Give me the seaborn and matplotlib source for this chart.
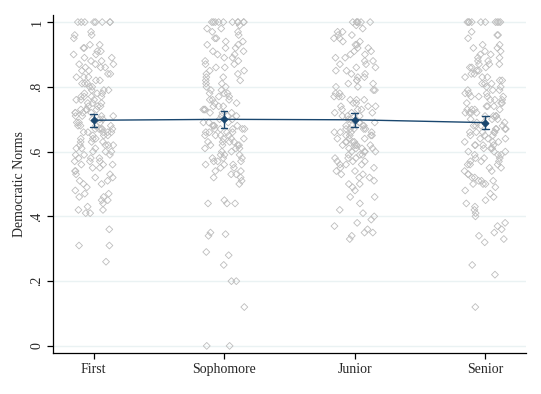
import numpy as np
import pandas as pd
import matplotlib
matplotlib.use("Agg")
import matplotlib.pyplot as plt
import seaborn as sns

# -- values (Democratic Norms by class year) --
years = ["First", "Sophomore", "Junior", "Senior"]

first = [1, 1, 1, 1, 1, 1, 1, 1, 0.96, 0.97, 0.95, 0.96,
         0.93, 0.92, 0.91, 0.91, 0.90, 0.90, 0.92, 0.93,
         0.89, 0.88, 0.88, 0.87, 0.87, 0.86, 0.86, 0.85, 0.85, 0.89, 0.87, 0.86,
         0.84, 0.84, 0.83, 0.83, 0.82, 0.82, 0.81, 0.81, 0.80, 0.80, 0.83, 0.81,
         0.79, 0.79, 0.78, 0.78, 0.77, 0.77, 0.77, 0.76, 0.76, 0.76, 0.75, 0.75,
         0.78, 0.79, 0.75, 0.77,
         0.74, 0.74, 0.73, 0.73, 0.73, 0.72, 0.72, 0.72, 0.71, 0.71, 0.71, 0.70,
         0.70, 0.70, 0.74, 0.72, 0.71, 0.73,
         0.69, 0.69, 0.68, 0.68, 0.68, 0.67, 0.67, 0.67, 0.67, 0.66, 0.66, 0.66,
         0.66, 0.65, 0.65, 0.65, 0.69, 0.68, 0.67, 0.66,
         0.64, 0.64, 0.63, 0.63, 0.62, 0.62, 0.62, 0.61, 0.61, 0.60, 0.60, 0.60,
         0.64, 0.63, 0.61, 0.62,
         0.59, 0.59, 0.58, 0.58, 0.57, 0.57, 0.56, 0.56, 0.55, 0.55, 0.59, 0.57,
         0.56, 0.58,
         0.54, 0.54, 0.53, 0.52, 0.52, 0.51, 0.51, 0.50, 0.50, 0.53,
         0.49, 0.48, 0.47, 0.47, 0.46, 0.46, 0.45, 0.45,
         0.44, 0.43, 0.42, 0.42, 0.41, 0.41,
         0.36, 0.31, 0.31, 0.26]

sophomore = [1, 1, 1, 1, 1, 1, 1, 1, 1, 1,
             0.99, 0.98, 0.97, 0.97, 0.96, 0.95, 0.95, 0.98,
             0.94, 0.93, 0.93, 0.92, 0.92, 0.91, 0.91, 0.90, 0.90, 0.94,
             0.89, 0.88, 0.88, 0.87, 0.87, 0.86, 0.86, 0.85, 0.85, 0.89,
             0.84, 0.83, 0.83, 0.82, 0.82, 0.81, 0.81, 0.80, 0.80, 0.84,
             0.79, 0.79, 0.78, 0.78, 0.77, 0.77, 0.76, 0.76, 0.75, 0.75, 0.78, 0.76,
             0.74, 0.74, 0.73, 0.73, 0.72, 0.72, 0.72, 0.71, 0.71, 0.70, 0.70,
             0.73, 0.71, 0.74,
             0.69, 0.69, 0.68, 0.68, 0.68, 0.67, 0.67, 0.67, 0.66, 0.66, 0.66,
             0.65, 0.65, 0.65, 0.69, 0.68, 0.67, 0.66, 0.65, 0.67,
             0.64, 0.64, 0.63, 0.63, 0.63, 0.62, 0.62, 0.62, 0.61, 0.61, 0.60,
             0.60, 0.64, 0.62, 0.61, 0.63,
             0.59, 0.59, 0.58, 0.58, 0.57, 0.57, 0.57, 0.56, 0.56, 0.55, 0.55,
             0.58, 0.56, 0.59,
             0.54, 0.54, 0.53, 0.53, 0.52, 0.52,
             0.51, 0.50, 0.45, 0.44, 0.44, 0.44, 0.35, 0.345, 0.34, 0.29, 0.28,
             0.25, 0.20, 0.20, 0.12, 0.0, 0.0]

junior = [1, 1, 1, 1, 1, 1,
          0.99, 0.98, 0.97, 0.96, 0.96, 0.95, 0.95, 0.97,
          0.94, 0.93, 0.92, 0.92, 0.91, 0.91, 0.90, 0.90, 0.93, 0.94,
          0.89, 0.88, 0.87, 0.87, 0.86, 0.86, 0.85, 0.85, 0.88, 0.89,
          0.84, 0.83, 0.83, 0.82, 0.81, 0.81, 0.80, 0.80, 0.82, 0.84,
          0.79, 0.79, 0.78, 0.78, 0.77, 0.77, 0.76, 0.76, 0.75, 0.75, 0.77, 0.76,
          0.74, 0.74, 0.73, 0.73, 0.72, 0.72, 0.71, 0.71, 0.71, 0.70, 0.70,
          0.72, 0.73, 0.74,
          0.69, 0.69, 0.68, 0.68, 0.67, 0.67, 0.67, 0.66, 0.66, 0.66, 0.65,
          0.65, 0.65, 0.69, 0.68, 0.67, 0.66, 0.65, 0.68, 0.67,
          0.64, 0.64, 0.63, 0.63, 0.62, 0.62, 0.62, 0.61, 0.61, 0.60, 0.60,
          0.60, 0.63, 0.62, 0.61, 0.64, 0.60, 0.61, 0.62, 0.63,
          0.59, 0.59, 0.58, 0.58, 0.57, 0.57, 0.56, 0.56, 0.56, 0.55, 0.55,
          0.58, 0.57, 0.59,
          0.54, 0.54, 0.53, 0.53, 0.52, 0.52,
          0.51, 0.50, 0.50, 0.49, 0.48, 0.46, 0.46, 0.44, 0.42, 0.41, 0.40,
          0.39, 0.38, 0.37, 0.36, 0.35, 0.35, 0.34, 0.33]

senior = [1, 1, 1, 1, 1, 1, 1, 1, 1, 1,
          0.97, 0.96, 0.96, 0.95,
          0.93, 0.92, 0.91, 0.91, 0.90, 0.90, 0.92, 0.93,
          0.89, 0.88, 0.88, 0.87, 0.87, 0.86, 0.86, 0.85, 0.85, 0.89, 0.87, 0.86,
          0.84, 0.84, 0.83, 0.83, 0.82, 0.82, 0.81, 0.81, 0.80, 0.80, 0.83, 0.81,
          0.79, 0.79, 0.78, 0.78, 0.77, 0.77, 0.77, 0.76, 0.76, 0.76, 0.75, 0.75,
          0.78, 0.79, 0.75, 0.77,
          0.74, 0.74, 0.73, 0.73, 0.73, 0.72, 0.72, 0.72, 0.71, 0.71, 0.71, 0.70,
          0.70, 0.70, 0.74, 0.72, 0.71, 0.73,
          0.69, 0.69, 0.68, 0.68, 0.68, 0.67, 0.67, 0.67, 0.67, 0.66, 0.66, 0.66,
          0.66, 0.65, 0.65, 0.65, 0.69, 0.68, 0.67, 0.66,
          0.64, 0.64, 0.63, 0.63, 0.62, 0.62, 0.62, 0.61, 0.61, 0.60, 0.60, 0.60,
          0.64, 0.63, 0.61, 0.62,
          0.59, 0.59, 0.58, 0.58, 0.57, 0.57, 0.56, 0.56, 0.55, 0.55, 0.59, 0.57,
          0.56, 0.58,
          0.54, 0.54, 0.53, 0.52, 0.52, 0.51, 0.51, 0.50, 0.50, 0.53,
          0.51, 0.50, 0.49, 0.48, 0.47, 0.46, 0.45, 0.44, 0.43, 0.42, 0.41, 0.40,
          0.38, 0.37, 0.36, 0.35, 0.34, 0.33, 0.32, 0.25, 0.22, 0.12]

yticks = [0, 0.2, 0.4, 0.6, 0.8, 1]
ytick_labels = ["0", ".2", ".4", ".6", ".8", "1"]

df = pd.DataFrame({
    "year": ["First"] * len(first) + ["Sophomore"] * len(sophomore)
            + ["Junior"] * len(junior) + ["Senior"] * len(senior),
    "norms": first + sophomore + junior + senior,
})

sns.set_style("white")
plt.rcParams["font.family"] = ["Liberation Serif", "DejaVu Serif"]

fig = plt.figure(figsize=(5.41, 3.94), dpi=100)
ax = fig.add_axes([0.098, 0.104, 0.874, 0.858])

np.random.seed(3)
sns.stripplot(data=df, x="year", y="norms", order=years, jitter=0.16,
              marker="D", size=3.5, color="#bdbdbd", linewidth=0.6,
              edgecolor="#bdbdbd", ax=ax, zorder=2)
for coll in ax.collections:
    coll.set_facecolor("none")
    coll.set_edgecolor("#bdbdbd")

# mean with interval, as in the Stata original
sns.pointplot(data=df, x="year", y="norms", order=years,
              errorbar=("se", 1.5), color="#1a476f", markers="D",
              markersize=3.5, linewidth=1.0, capsize=0.05,
              err_kws={"linewidth": 1.0}, ax=ax)

ax.set_xlim(-0.31, 3.31)
ax.set_ylim(-0.022, 1.022)
ax.set_yticks(yticks)
ax.set_yticklabels(ytick_labels)
ax.yaxis.grid(True, color="#eaf2f3", linewidth=1.0)
ax.set_axisbelow(True)

for side in ["top", "right"]:
    ax.spines[side].set_visible(False)
for side in ["left", "bottom"]:
    ax.spines[side].set_color("black")
    ax.spines[side].set_linewidth(0.9)

ax.tick_params(axis="both", direction="out", length=4, width=0.9,
               color="black", labelsize=10, left=True, bottom=True, pad=3)
ax.tick_params(axis="y", labelrotation=90, pad=3)
for lab in ax.get_yticklabels():
    lab.set_verticalalignment("center")

ax.set_xlabel("")
ax.set_ylabel("Democratic Norms", fontsize=10, labelpad=3)

fig.savefig("out.png", dpi=100)
